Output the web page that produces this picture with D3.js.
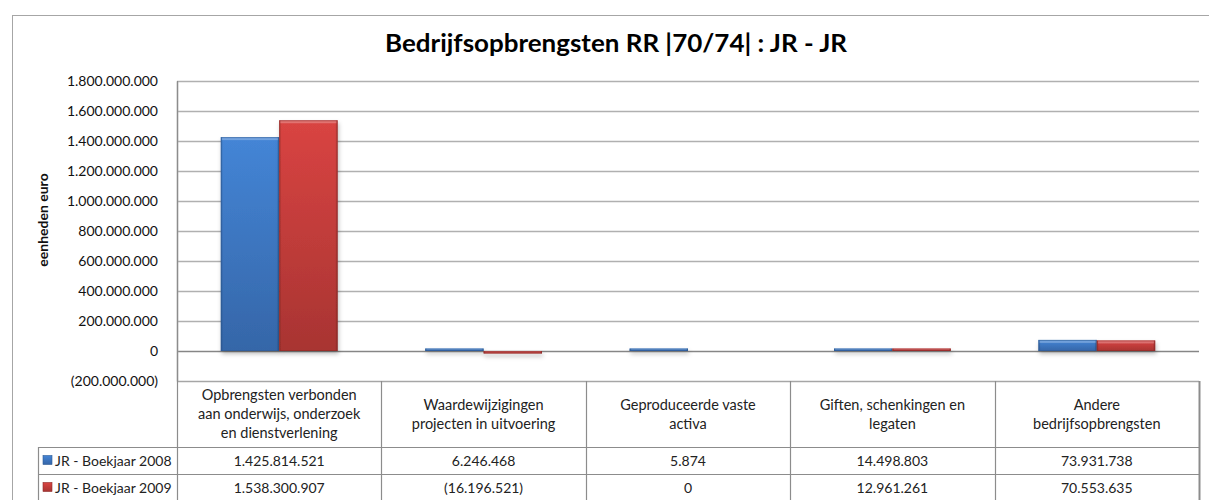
<!DOCTYPE html>
<html>
<head>
<meta charset="utf-8">
<script src="https://cdn.jsdelivr.net/npm/d3@7"></script>
<style>
  body { margin: 0; background: #fff; }
  svg { display: block; font-family: Lato, "Open Sans", sans-serif; }
</style>
</head>
<body>
<script>
var width = 1209;
var height = 500;

// data
var categories = [
  ["Opbrengsten verbonden", "aan onderwijs, onderzoek", "en dienstverlening"],
  ["Waardewijzigingen", "projecten in uitvoering"],
  ["Geproduceerde vaste", "activa"],
  ["Giften, schenkingen en", "legaten"],
  ["Andere", "bedrijfsopbrengsten"]
];
var seriesNames = ["JR - Boekjaar 2008", "JR - Boekjaar 2009"];
var values2008 = [1425814521, 6246468, 5874, 14498803, 73931738];
var values2009 = [1538300907, -16196521, 0, 12961261, 70553635];
var yTicks = [-200000000, 0, 200000000, 400000000, 600000000, 800000000,
              1000000000, 1200000000, 1400000000, 1600000000, 1800000000];

var series = [
  { name: seriesNames[0], values: values2008, key: "blue" },
  { name: seriesNames[1], values: values2009, key: "red" }
];

// layout
var plotLeft = 177, plotRight = 1199, plotTop = 81, plotBottom = 381;
var headH = 66, rowH = 27, legendLeft = 38;

var svg = d3.select("body").append("svg")
    .attr("width", width)
    .attr("height", height);

var defs = svg.append("defs");
function grad(id, top, bottom) {
  var g = defs.append("linearGradient").attr("id", id)
      .attr("x1", 0).attr("y1", 0).attr("x2", 0).attr("y2", 1);
  g.append("stop").attr("offset", "0%").attr("stop-color", top);
  g.append("stop").attr("offset", "100%").attr("stop-color", bottom);
}
grad("g-blue", "#4485d6", "#3566a8");
grad("g-red", "#d94442", "#a83432");
var side = defs.append("linearGradient").attr("id", "g-side")
    .attr("x1", 0).attr("y1", 0).attr("x2", 1).attr("y2", 0);
side.append("stop").attr("offset", "0%").attr("stop-color", "#000").attr("stop-opacity", 0.18);
side.append("stop").attr("offset", "4%").attr("stop-color", "#000").attr("stop-opacity", 0);
side.append("stop").attr("offset", "96%").attr("stop-color", "#000").attr("stop-opacity", 0);
side.append("stop").attr("offset", "100%").attr("stop-color", "#000").attr("stop-opacity", 0.22);
var shadow = defs.append("filter").attr("id", "shadow")
    .attr("x", "-10%").attr("y", "-10%").attr("width", "130%").attr("height", "140%");
shadow.append("feDropShadow").attr("dx", 1).attr("dy", 3)
    .attr("stdDeviation", 2).attr("flood-color", "#000").attr("flood-opacity", 0.25);

// outer frame
svg.append("rect")
    .attr("x", 12.5).attr("y", 15.5)
    .attr("width", 1210).attr("height", 500)
    .attr("fill", "#fff").attr("stroke", "#a6a6a6");

// title
svg.append("text")
    .attr("x", 616).attr("y", 52)
    .attr("text-anchor", "middle")
    .attr("font-weight", "bold")
    .attr("font-size", 25)
    .attr("textLength", 462)
    .attr("lengthAdjust", "spacingAndGlyphs")
    .text("Bedrijfsopbrengsten RR |70/74|  : JR - JR");

var x = d3.scaleBand().domain(d3.range(categories.length)).range([plotLeft, plotRight]);
var barW = x.bandwidth() / 3.5;
var x1 = d3.scaleBand().domain([0, 1]).range([x.bandwidth() / 2 - barW, x.bandwidth() / 2 + barW]);
var y = d3.scaleLinear().domain([-200000000, 1800000000]).range([plotBottom, plotTop]);

var fmt = function(v) {
  var s = d3.format(",")(Math.abs(v)).replace(/,/g, ".");
  return v < 0 ? "(" + s + ")" : s;
};

// gridlines
svg.append("g").selectAll("line")
  .data(yTicks.filter(function(d) { return d > -200000000; }))
  .enter().append("line")
    .attr("x1", plotLeft).attr("x2", plotRight)
    .attr("y1", function(d) { return Math.round(y(d)) + 0.5; })
    .attr("y2", function(d) { return Math.round(y(d)) + 0.5; })
    .attr("stroke", function(d) { return d === 0 ? "#868686" : "#b0b0b0"; })
    .attr("stroke-width", 1.5);

// y axis
var yAxis = svg.append("g")
    .attr("transform", "translate(" + plotLeft + ",0)")
    .call(d3.axisLeft(y).tickValues(yTicks).tickSize(0).tickPadding(19).tickFormat(fmt));
yAxis.select(".domain").attr("stroke", "#a6a6a6").attr("stroke-width", 1.5);
yAxis.selectAll("text")
    .attr("font-family", "Lato, sans-serif")
    .attr("font-size", 14)
    .attr("fill", "#111");

svg.append("text")
    .attr("transform", "translate(48,220) rotate(-90)")
    .attr("text-anchor", "middle")
    .attr("font-weight", "bold")
    .attr("font-size", 14)
    .attr("fill", "#111")
    .text("eenheden euro");

// bars
var groups = svg.append("g").selectAll("g")
  .data(series)
  .enter().append("g")
    .attr("filter", "url(#shadow)");

groups.selectAll("g.bar")
  .data(function(s, si) {
    return s.values.map(function(v, i) { return { v: v, i: i, si: si, key: s.key }; });
  })
  .enter().append("g")
    .attr("class", "bar")
    .each(function(d) {
      if (d.v === 0) return;
      var g = d3.select(this);
      var bx = x(d.i) + x1(d.si);
      var h = Math.max(Math.abs(y(d.v) - y(0)), 2.5);
      var top = d.v < 0 ? y(0) : y(0) - h;
      g.append("rect").attr("x", bx).attr("y", top).attr("width", barW).attr("height", h)
          .attr("fill", "url(#g-" + d.key + ")");
      g.append("rect").attr("x", bx).attr("y", top).attr("width", barW).attr("height", h)
          .attr("fill", "url(#g-side)");
      g.append("rect").attr("x", bx + 1).attr("y", top).attr("width", barW - 2)
          .attr("height", Math.min(3, h / 2))
          .attr("fill", "#fff").attr("fill-opacity", 0.25);
      g.append("rect").attr("x", bx + 0.5).attr("y", top + 0.5).attr("width", barW - 1).attr("height", h - 1)
          .attr("fill", "none")
          .attr("stroke", d.key === "blue" ? "#2d5a94" : "#8e2a28")
          .attr("stroke-opacity", 0.6);
    });

// data table
var tbl = svg.append("g").attr("stroke", "#8c8c8c").attr("stroke-width", 1.2);
var tableTop = plotBottom;
var tableBottom = tableTop + headH + rowH * 2;

tbl.append("line").attr("x1", plotLeft).attr("x2", plotRight)
    .attr("y1", tableTop + 0.5).attr("y2", tableTop + 0.5).attr("stroke", "#a6a6a6").attr("stroke-width", 1.5);
[tableTop + headH, tableTop + headH + rowH, tableBottom].forEach(function(yy) {
  tbl.append("line").attr("x1", legendLeft).attr("x2", plotRight)
      .attr("y1", yy + 0.5).attr("y2", yy + 0.5);
});
d3.range(categories.length + 1).forEach(function(i) {
  var xx = i < categories.length ? x(i) : plotRight;
  tbl.append("line").attr("x1", Math.round(xx) + 0.5).attr("x2", Math.round(xx) + 0.5)
      .attr("y1", i === 0 ? plotTop : tableTop).attr("y2", tableBottom)
      .attr("stroke-width", i === categories.length ? 2 : 1.2);
});
tbl.append("line").attr("x1", legendLeft + 0.5).attr("x2", legendLeft + 0.5)
    .attr("y1", tableTop + headH).attr("y2", tableBottom);

// header labels
svg.append("g").selectAll("text")
  .data(categories)
  .enter().append("text")
    .attr("text-anchor", "middle")
    .attr("font-size", 14.5)
    .attr("fill", "#222")
    .attr("x", function(d, i) { return x(i) + x.bandwidth() / 2; })
    .attr("y", function(d) { return tableTop + headH / 2 - (d.length - 1) * 9.5 + 5; })
    .each(function(d) {
      var t = d3.select(this);
      d.forEach(function(line, k) {
        t.append("tspan")
            .attr("x", t.attr("x"))
            .attr("dy", k === 0 ? 0 : 19)
            .text(line);
      });
    });

// value rows
series.forEach(function(s, si) {
  var cy = tableTop + headH + rowH * si + rowH / 2;
  svg.append("g").selectAll("text")
    .data(s.values)
    .enter().append("text")
      .attr("text-anchor", "middle")
      .attr("font-size", 14)
      .attr("fill", "#222")
      .attr("x", function(d, i) { return x(i) + x.bandwidth() / 2; })
      .attr("y", cy + 5)
      .text(fmt);
  svg.append("rect")
      .attr("x", legendLeft + 5).attr("y", cy - 5)
      .attr("width", 9).attr("height", 9)
      .attr("fill", "url(#g-" + s.key + ")")
      .attr("stroke", s.key === "blue" ? "#2d5a94" : "#8e2a28")
      .attr("stroke-width", 0.6);
  svg.append("text")
      .attr("x", legendLeft + 17).attr("y", cy + 5)
      .attr("font-size", 14)
      .attr("fill", "#222")
      .text(s.name);
});
</script>
</body>
</html>
